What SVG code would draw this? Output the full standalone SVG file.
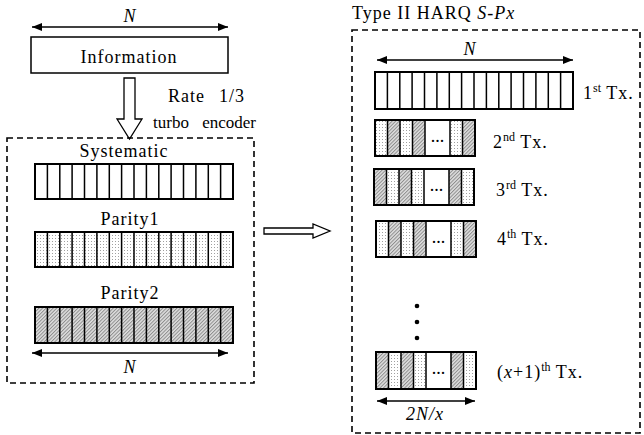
<svg xmlns="http://www.w3.org/2000/svg" width="644" height="435" viewBox="0 0 644 435">
  <defs>
    <pattern id="dots" width="3" height="3" patternUnits="userSpaceOnUse">
      <rect width="3" height="3" fill="#fff"/>
      <rect x="1" y="1" width="1" height="1" fill="#a0a0a0"/>
    </pattern>
    <pattern id="hatch" width="2.5" height="2.5" patternUnits="userSpaceOnUse" patternTransform="rotate(45)">
      <rect width="2.5" height="2.5" fill="#e0e0e0"/>
      <rect width="1" height="2.5" fill="#8c8c8c"/>
    </pattern>
    <marker id="ah" viewBox="0 0 10 8" refX="10" refY="4" markerWidth="10" markerHeight="8" markerUnits="userSpaceOnUse" orient="auto-start-reverse">
      <path d="M0,0 L10,4 L0,8 Z" fill="#000"/>
    </marker>
  </defs>
  <style>
    text { font-family: "Liberation Serif", "Times New Roman", serif; fill: #000; }
    .lbl { font-size: 18px; letter-spacing: 1px; }
    .tight { font-size: 17px; letter-spacing: 0; }
    .it { font-style: italic; }
    .sup { font-size: 12px; letter-spacing: 0; }
    .cell { stroke: #000; stroke-width: 1.5; }
    .frame { fill: none; stroke: #000; stroke-width: 2; }
    .dash { fill: none; stroke: #000; stroke-width: 1.6; stroke-dasharray: 6 4; }
    .dim { stroke: #000; stroke-width: 1.6; marker-start: url(#ah); marker-end: url(#ah); }
    .hollow { fill: #fff; stroke: #000; stroke-width: 1.3; }
  </style>

  <!-- encoder side -->
  <g id="info">
    <line class="dim" x1="32" y1="27" x2="228" y2="27"/>
    <text class="lbl it" x="130" y="22" text-anchor="middle">N</text>
    <rect x="31" y="37" width="197" height="36" fill="#fff" stroke="#000" stroke-width="1.5"/>
    <text class="lbl" x="129" y="63" text-anchor="middle">Information</text>
  </g>

  <g id="encoder-arrow">
    <polygon class="hollow" points="124,78 135,78 135,119 142,119 129.5,139 117,119 124,119"/>
    <text class="lbl" x="168" y="102">Rate</text>
    <text class="lbl" x="245" y="102" text-anchor="end">1/3</text>
    <text class="lbl tight" x="153" y="128">turbo</text>
    <text class="lbl tight" x="256" y="128" text-anchor="end">encoder</text>
  </g>

  <g id="encoder-output">
    <rect class="dash" x="7" y="138" width="247" height="245"/>

    <text class="lbl" x="124" y="157" text-anchor="middle">Systematic</text>
    <g id="systematic">
      <rect x="35" y="164" width="198" height="35" fill="#fff"/>
      <path class="cell" d="M47.4,164V199M59.8,164V199M72.1,164V199M84.5,164V199M96.9,164V199M109.3,164V199M121.6,164V199M134,164V199M146.4,164V199M158.8,164V199M171.1,164V199M183.5,164V199M195.9,164V199M208.3,164V199M220.6,164V199"/>
      <rect class="frame" x="35" y="164" width="198" height="35"/>
    </g>

    <text class="lbl" x="130" y="225" text-anchor="middle">Parity1</text>
    <g id="parity1">
      <rect x="35" y="232" width="198" height="35" fill="url(#dots)"/>
      <path class="cell" d="M47.4,232V267M59.8,232V267M72.1,232V267M84.5,232V267M96.9,232V267M109.3,232V267M121.6,232V267M134,232V267M146.4,232V267M158.8,232V267M171.1,232V267M183.5,232V267M195.9,232V267M208.3,232V267M220.6,232V267"/>
      <rect class="frame" x="35" y="232" width="198" height="35"/>
    </g>

    <text class="lbl" x="130" y="299" text-anchor="middle">Parity2</text>
    <g id="parity2">
      <rect x="35" y="307" width="198" height="36" fill="url(#hatch)"/>
      <path class="cell" d="M47.4,307V343M59.8,307V343M72.1,307V343M84.5,307V343M96.9,307V343M109.3,307V343M121.6,307V343M134,307V343M146.4,307V343M158.8,307V343M171.1,307V343M183.5,307V343M195.9,307V343M208.3,307V343M220.6,307V343"/>
      <rect class="frame" x="35" y="307" width="198" height="36"/>
    </g>

    <line class="dim" x1="32" y1="353" x2="228" y2="353"/>
    <text class="lbl it" x="130" y="373" text-anchor="middle">N</text>
  </g>

  <g id="connectors">
    <polygon class="hollow" points="264,228 313,228 313,224 330,231 313,238 313,234 264,234"/>
  </g>

  <!-- HARQ side -->
  <g id="harq">
    <text class="lbl" x="352" y="19">Type II HARQ <tspan class="it">S-Px</tspan></text>
    <rect class="dash" x="352" y="30" width="288" height="403"/>

    <line class="dim" x1="377" y1="60" x2="573" y2="60"/>
    <text class="lbl it" x="470" y="55" text-anchor="middle">N</text>
  </g>

  <g id="tx1">
    <rect x="375" y="72" width="198" height="37" fill="#fff"/>
    <path class="cell" d="M387.4,72V109M399.8,72V109M412.1,72V109M424.5,72V109M436.9,72V109M449.3,72V109M461.6,72V109M474,72V109M486.4,72V109M498.8,72V109M511.1,72V109M523.5,72V109M535.9,72V109M548.3,72V109M560.6,72V109"/>
    <rect class="frame" x="375" y="72" width="198" height="37"/>
    <text class="lbl" x="583" y="99">1<tspan class="sup" dy="-7">st</tspan><tspan dy="7"> Tx.</tspan></text>
  </g>

  <g id="tx2">
    <rect x="375" y="120" width="12.5" height="36" fill="url(#dots)"/>
    <rect x="387.5" y="120" width="12.5" height="36" fill="url(#hatch)"/>
    <rect x="400" y="120" width="12.5" height="36" fill="url(#dots)"/>
    <rect x="412.5" y="120" width="12.5" height="36" fill="url(#hatch)"/>
    <rect x="425" y="120" width="25" height="36" fill="#fff"/>
    <rect x="450" y="120" width="12.5" height="36" fill="url(#dots)"/>
    <rect x="462.5" y="120" width="12.5" height="36" fill="url(#hatch)"/>
    <path class="cell" d="M387.5,120V156M400,120V156M412.5,120V156M425,120V156M450,120V156M462.5,120V156"/>
    <rect class="frame" x="375" y="120" width="100" height="36"/>
    <text class="lbl" x="437.5" y="142" text-anchor="middle" style="letter-spacing:0">...</text>
    <text class="lbl" x="493" y="148">2<tspan class="sup" dy="-7">nd</tspan><tspan dy="7"> Tx.</tspan></text>
  </g>

  <g id="tx3">
    <rect x="374" y="169" width="12.5" height="36" fill="url(#hatch)"/>
    <rect x="386.5" y="169" width="12.5" height="36" fill="url(#dots)"/>
    <rect x="399" y="169" width="12.5" height="36" fill="url(#hatch)"/>
    <rect x="411.5" y="169" width="12.5" height="36" fill="url(#dots)"/>
    <rect x="424" y="169" width="25" height="36" fill="#fff"/>
    <rect x="449" y="169" width="12.5" height="36" fill="url(#hatch)"/>
    <rect x="461.5" y="169" width="12.5" height="36" fill="url(#dots)"/>
    <path class="cell" d="M386.5,169V205M399,169V205M411.5,169V205M424,169V205M449,169V205M461.5,169V205"/>
    <rect class="frame" x="374" y="169" width="100" height="36"/>
    <text class="lbl" x="436.5" y="191" text-anchor="middle" style="letter-spacing:0">...</text>
    <text class="lbl" x="496" y="196">3<tspan class="sup" dy="-7">rd</tspan><tspan dy="7"> Tx.</tspan></text>
  </g>

  <g id="tx4">
    <rect x="376" y="221" width="12.5" height="36" fill="url(#dots)"/>
    <rect x="388.5" y="221" width="12.5" height="36" fill="url(#hatch)"/>
    <rect x="401" y="221" width="12.5" height="36" fill="url(#dots)"/>
    <rect x="413.5" y="221" width="12.5" height="36" fill="url(#hatch)"/>
    <rect x="426" y="221" width="25" height="36" fill="#fff"/>
    <rect x="451" y="221" width="12.5" height="36" fill="url(#dots)"/>
    <rect x="463.5" y="221" width="12.5" height="36" fill="url(#hatch)"/>
    <path class="cell" d="M388.5,221V257M401,221V257M413.5,221V257M426,221V257M451,221V257M463.5,221V257"/>
    <rect class="frame" x="376" y="221" width="100" height="36"/>
    <text class="lbl" x="438.5" y="243" text-anchor="middle" style="letter-spacing:0">...</text>
    <text class="lbl" x="497" y="245">4<tspan class="sup" dy="-7">th</tspan><tspan dy="7"> Tx.</tspan></text>
  </g>

  <g id="ellipsis">
    <circle cx="417" cy="306" r="2.3" fill="#000"/>
    <circle cx="417" cy="322" r="2.3" fill="#000"/>
    <circle cx="417" cy="338" r="2.3" fill="#000"/>
  </g>

  <g id="txn">
    <rect x="376" y="352" width="12.5" height="37" fill="url(#hatch)"/>
    <rect x="388.5" y="352" width="12.5" height="37" fill="url(#dots)"/>
    <rect x="401" y="352" width="12.5" height="37" fill="url(#hatch)"/>
    <rect x="413.5" y="352" width="12.5" height="37" fill="url(#dots)"/>
    <rect x="426" y="352" width="25" height="37" fill="#fff"/>
    <rect x="451" y="352" width="12.5" height="37" fill="url(#hatch)"/>
    <rect x="463.5" y="352" width="12.5" height="37" fill="url(#dots)"/>
    <path class="cell" d="M388.5,352V389M401,352V389M413.5,352V389M426,352V389M451,352V389M463.5,352V389"/>
    <rect class="frame" x="376" y="352" width="100" height="37"/>
    <text class="lbl" x="438.5" y="374" text-anchor="middle" style="letter-spacing:0">...</text>
    <text class="lbl" x="497" y="378">(<tspan class="it">x</tspan>+1)<tspan class="sup" dy="-7">th</tspan><tspan dy="7"> Tx.</tspan></text>
    <line class="dim" x1="377" y1="401" x2="475" y2="401"/>
    <text class="lbl it" x="425" y="420" text-anchor="middle">2N/x</text>
  </g>
</svg>
